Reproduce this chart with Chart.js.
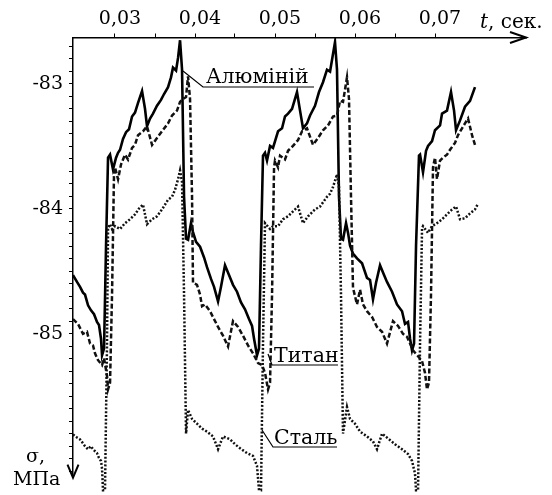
<!DOCTYPE html>
<html>
<head>
<meta charset="utf-8">
<script src="https://cdn.jsdelivr.net/npm/chart.js@4/dist/chart.umd.min.js"></script>
<style>
  html, body { margin: 0; padding: 0; background: #fff; }
</style>
</head>
<body>
<canvas id="chart" width="552" height="495"></canvas>
<script>
// Напруження σ (МПа) у часі t (сек.), пари [t, σ]
const aluminium = [
  [0.02475,-84.530],[0.02525,-84.585],[0.02563,-84.624],[0.02600,-84.671],[0.02625,-84.686],[0.02663,-84.772],
  [0.02700,-84.812],[0.02738,-84.843],[0.02775,-84.905],[0.02800,-84.929],[0.02825,-85.039],[0.02838,-85.172],
  [0.02863,-85.117],[0.02888,-84.295],[0.02913,-83.591],[0.02938,-83.567],[0.02975,-83.685],[0.03013,-83.591],
  [0.03038,-83.552],[0.03063,-83.528],[0.03100,-83.442],[0.03138,-83.387],[0.03175,-83.364],[0.03213,-83.262],
  [0.03250,-83.231],[0.03288,-83.153],[0.03338,-83.059],[0.03375,-83.200],[0.03400,-83.340],[0.03438,-83.278],
  [0.03475,-83.239],[0.03525,-83.176],[0.03575,-83.129],[0.03613,-83.082],[0.03663,-83.027],[0.03700,-82.949],
  [0.03725,-82.871],[0.03763,-82.894],[0.03788,-82.793],[0.03813,-82.652],[0.03838,-82.887],[0.03863,-83.904],
  [0.03888,-84.240],[0.03913,-84.248],[0.03950,-84.115],[0.03975,-84.186],[0.04013,-84.264],[0.04063,-84.303],
  [0.04113,-84.389],[0.04150,-84.467],[0.04200,-84.561],[0.04238,-84.624],[0.04288,-84.741],[0.04325,-84.624],
  [0.04375,-84.452],[0.04425,-84.530],[0.04475,-84.608],[0.04525,-84.663],[0.04575,-84.749],[0.04625,-84.804],
  [0.04675,-84.882],[0.04713,-84.937],[0.04738,-85.039],[0.04775,-85.172],
  [0.04800,-85.117],[0.04825,-84.295],[0.04850,-83.575],[0.04875,-83.552],[0.04900,-83.614],[0.04938,-83.497],
  [0.04975,-83.513],[0.05038,-83.380],[0.05088,-83.356],[0.05125,-83.262],[0.05163,-83.239],[0.05213,-83.200],
  [0.05275,-83.066],[0.05313,-83.215],[0.05350,-83.356],[0.05400,-83.317],[0.05438,-83.254],[0.05500,-83.176],
  [0.05550,-83.066],[0.05600,-82.988],[0.05650,-82.887],[0.05688,-82.902],[0.05713,-82.808],[0.05750,-82.667],
  [0.05775,-82.887],[0.05800,-83.904],[0.05825,-84.240],[0.05850,-84.248],[0.05888,-84.115],[0.05913,-84.193],
  [0.05938,-84.295],[0.05975,-84.358],[0.06025,-84.397],[0.06088,-84.436],[0.06150,-84.553],[0.06188,-84.569],
  [0.06225,-84.725],[0.06263,-84.592],[0.06313,-84.452],[0.06363,-84.530],[0.06400,-84.585],[0.06463,-84.663],
  [0.06525,-84.765],[0.06588,-84.819],[0.06625,-84.921],[0.06663,-84.905],[0.06688,-85.039],[0.06713,-85.133],
  [0.06738,-85.078],[0.06763,-84.295],[0.06800,-83.575],[0.06813,-83.567],[0.06850,-83.708],[0.06888,-83.536],
  [0.06913,-83.497],[0.06963,-83.458],[0.07000,-83.372],[0.07063,-83.333],[0.07088,-83.239],[0.07150,-83.215],
  [0.07200,-83.066],[0.07238,-83.215],[0.07263,-83.372],[0.07313,-83.293],[0.07375,-83.184],[0.07438,-83.137],
  [0.07500,-83.027]
];

const titanium = [
  [0.02475,-84.882],[0.02538,-84.921],[0.02600,-85.000],[0.02650,-84.984],[0.02688,-85.078],[0.02725,-85.093],
  [0.02750,-85.156],[0.02788,-85.211],[0.02838,-85.250],[0.02863,-85.195],[0.02900,-85.336],[0.02913,-85.445],
  [0.02938,-85.391],[0.02963,-84.686],[0.02988,-83.708],[0.03000,-83.669],[0.03038,-83.763],[0.03075,-83.646],
  [0.03125,-83.567],[0.03163,-83.606],[0.03213,-83.513],[0.03250,-83.489],[0.03288,-83.411],[0.03350,-83.380],
  [0.03400,-83.340],[0.03463,-83.489],[0.03525,-83.434],[0.03588,-83.380],[0.03663,-83.317],[0.03713,-83.254],
  [0.03775,-83.215],[0.03813,-83.145],[0.03850,-83.121],[0.03888,-83.106],[0.03913,-82.941],[0.03938,-83.121],
  [0.03963,-83.904],[0.03975,-84.592],[0.04025,-84.608],[0.04063,-84.686],[0.04088,-84.780],[0.04125,-84.765],
  [0.04188,-84.819],[0.04225,-84.866],[0.04288,-84.945],[0.04350,-85.015],[0.04413,-85.101],[0.04475,-84.898],
  [0.04538,-84.945],[0.04600,-85.015],[0.04663,-85.093],[0.04725,-85.156],[0.04788,-85.234],[0.04838,-85.250],
  [0.04875,-85.312],[0.04913,-85.445],
  [0.04938,-85.391],[0.04963,-84.686],[0.04988,-83.669],[0.05000,-83.614],[0.05038,-83.669],[0.05063,-83.575],
  [0.05125,-83.606],[0.05163,-83.536],[0.05225,-83.497],[0.05288,-83.450],[0.05338,-83.380],[0.05400,-83.356],
  [0.05475,-83.489],[0.05538,-83.434],[0.05600,-83.372],[0.05663,-83.333],[0.05725,-83.262],[0.05775,-83.254],
  [0.05813,-83.137],[0.05850,-83.145],[0.05900,-82.949],[0.05925,-83.121],[0.05950,-83.904],[0.05975,-84.632],
  [0.06025,-84.765],[0.06063,-84.647],[0.06100,-84.765],[0.06150,-84.819],[0.06213,-84.866],[0.06275,-84.945],
  [0.06338,-84.984],[0.06400,-85.078],[0.06475,-84.898],[0.06538,-84.937],[0.06600,-85.000],[0.06650,-85.023],
  [0.06688,-85.078],[0.06725,-85.133],[0.06788,-85.179],[0.06838,-85.218],[0.06875,-85.312],[0.06900,-85.445],
  [0.06925,-85.391],[0.06950,-84.686],[0.06975,-83.669],[0.07000,-83.591],[0.07025,-83.763],[0.07063,-83.614],
  [0.07100,-83.591],[0.07150,-83.567],[0.07188,-83.528],[0.07250,-83.473],[0.07288,-83.411],[0.07338,-83.356],
  [0.07375,-83.317],[0.07413,-83.278],[0.07463,-83.411],[0.07500,-83.489]
];

const steel = [
  [0.02475,-85.805],[0.02525,-85.829],[0.02563,-85.844],[0.02600,-85.876],[0.02625,-85.899],[0.02663,-85.923],
  [0.02700,-85.899],[0.02725,-85.923],[0.02775,-85.954],[0.02800,-85.993],[0.02825,-86.017],[0.02838,-86.079],
  [0.02850,-86.251],[0.02875,-86.251],[0.02900,-85.078],[0.02913,-84.154],[0.02938,-84.123],[0.02963,-84.162],
  [0.03000,-84.139],[0.03063,-84.162],[0.03125,-84.115],[0.03188,-84.084],[0.03250,-84.045],[0.03300,-83.998],
  [0.03350,-83.966],[0.03400,-84.123],[0.03463,-84.084],[0.03525,-84.060],[0.03588,-84.005],[0.03663,-83.927],
  [0.03713,-83.904],[0.03750,-83.849],[0.03788,-83.763],[0.03813,-83.693],[0.03838,-83.787],[0.03863,-84.686],
  [0.03888,-85.798],[0.03913,-85.609],[0.03963,-85.680],[0.04025,-85.719],[0.04088,-85.758],[0.04150,-85.782],
  [0.04225,-85.821],[0.04288,-85.923],[0.04350,-85.821],[0.04438,-85.844],[0.04500,-85.883],[0.04563,-85.915],
  [0.04650,-85.954],[0.04725,-85.977],[0.04775,-86.056],[0.04800,-86.251],[0.04825,-86.251],
  [0.04850,-85.078],[0.04875,-84.115],[0.04938,-84.162],[0.04975,-84.139],[0.05038,-84.139],[0.05100,-84.084],
  [0.05163,-84.060],[0.05225,-84.021],[0.05288,-83.982],[0.05350,-84.115],[0.05413,-84.060],[0.05500,-84.005],
  [0.05563,-83.982],[0.05650,-83.904],[0.05688,-83.880],[0.05725,-83.826],[0.05775,-83.724],[0.05800,-83.826],
  [0.05825,-84.686],[0.05850,-85.798],[0.05900,-85.586],[0.05938,-85.680],[0.06000,-85.719],[0.06063,-85.782],
  [0.06150,-85.821],[0.06225,-85.860],[0.06275,-85.923],[0.06338,-85.798],[0.06413,-85.837],[0.06500,-85.883],
  [0.06588,-85.923],[0.06663,-85.962],[0.06713,-86.017],[0.06750,-86.118],[0.06763,-86.251],[0.06788,-86.251],
  [0.06813,-85.078],[0.06838,-84.154],[0.06850,-84.139],[0.06913,-84.193],[0.06963,-84.139],[0.07025,-84.115],
  [0.07088,-84.084],[0.07150,-84.045],[0.07213,-84.005],[0.07263,-83.982],[0.07313,-84.084],[0.07375,-84.076],
  [0.07438,-84.037],[0.07500,-84.005],[0.07538,-83.959]
];

// Поділки осей
const xTicks = [0.03, 0.035, 0.04, 0.045, 0.05, 0.055, 0.06, 0.065, 0.07];
const xLabels = ['0,03', '', '0,04', '', '0,05', '', '0,06', '', '0,07'];
const yLabelValues = [-83, -84, -85];
const yLabels = ['-83', '-84', '-85'];

const FONT = '"DejaVu Serif", "Liberation Serif", serif';

const toXY = arr => arr.map(p => ({ x: p[0], y: p[1] }));

// стрілки осей, підписи осей і кривих
const extras = {
  id: 'extras',
  afterDraw(chart) {
    const ctx = chart.ctx;
    const a = chart.chartArea;
    ctx.save();
    ctx.strokeStyle = '#000';
    ctx.fillStyle = '#000';
    ctx.lineWidth = 2;
    ctx.lineJoin = 'miter';

    ctx.beginPath();
    ctx.moveTo(a.right - 16, a.top - 5.5);
    ctx.lineTo(a.right, a.top);
    ctx.lineTo(a.right - 16, a.top + 5.5);
    ctx.stroke();

    ctx.beginPath();
    ctx.moveTo(a.left - 5.5, a.bottom - 13);
    ctx.lineTo(a.left, a.bottom);
    ctx.lineTo(a.left + 5.5, a.bottom - 13);
    ctx.stroke();

    ctx.textBaseline = 'alphabetic';
    ctx.textAlign = 'left';
    ctx.font = 'italic 20px ' + FONT;
    ctx.fillText('t', 480, 28);
    let w = ctx.measureText('t').width;
    ctx.font = '20px ' + FONT;
    ctx.fillText(', сек.', 480 + w, 28);

    ctx.font = '19px ' + FONT;
    ctx.fillText('σ,', 26, 462);
    ctx.fillText('МПа', 13, 485);

    // підписи кривих з підкресленням і виносками
    const notes = [
      { text: 'Алюміній', x: 206, y: 83, line: [[183, 71], [203, 87], [314, 87]] },
      { text: 'Титан', x: 274, y: 362, line: [[268, 354], [272, 365], [338, 365]] },
      { text: 'Сталь', x: 274, y: 444, line: [[262, 430], [273, 447], [337, 447]] }
    ];
    ctx.font = '20.5px ' + FONT;
    ctx.lineWidth = 1.2;
    notes.forEach(n => {
      ctx.fillText(n.text, n.x, n.y);
      ctx.beginPath();
      n.line.forEach((p, i) => i ? ctx.lineTo(p[0], p[1]) : ctx.moveTo(p[0], p[1]));
      ctx.stroke();
    });
    ctx.restore();
  }
};

new Chart(document.getElementById('chart'), {
  type: 'line',
  data: {
    datasets: [
      {
        label: 'Сталь',
        data: toXY(steel),
        borderColor: '#111',
        borderWidth: 2.5,
        borderDash: [2, 1.8],
        pointRadius: 0,
        tension: 0,
        clip: false
      },
      {
        label: 'Титан',
        data: toXY(titanium),
        borderColor: '#111',
        borderWidth: 2.5,
        borderDash: [5, 2.5],
        pointRadius: 0,
        tension: 0
      },
      {
        label: 'Алюміній',
        data: toXY(aluminium),
        borderColor: '#000',
        borderWidth: 2.6,
        pointRadius: 0,
        tension: 0
      }
    ]
  },
  options: {
    responsive: false,
    animation: false,
    layout: { padding: { left: 0, top: 0, right: 26, bottom: 8 } },
    plugins: { legend: { display: false }, tooltip: { enabled: false } },
    scales: {
      x: {
        type: 'linear',
        position: 'top',
        min: 0.02475,
        max: 0.081375,
        afterBuildTicks: s => { s.ticks = xTicks.map(v => ({ value: v })); },
        afterFit: s => { s.height = 37.5; },
        ticks: {
          autoSkip: false,
          maxRotation: 0,
          padding: 3,
          labelOffset: 5,
          color: '#000',
          font: { family: FONT, size: 19 },
          callback: (v, i) => xLabels[i]
        },
        grid: { drawOnChartArea: false, tickLength: 4, color: '#000', lineWidth: 1 },
        border: { display: true, color: '#000', width: 1.5 }
      },
      y: {
        type: 'linear',
        min: -86.15,
        max: -82.63,
        afterFit: s => { s.width = 73; },
        ticks: {
          stepSize: 0.1,
          includeBounds: false,
          autoSkip: false,
          padding: 6,
          color: '#000',
          font: { family: FONT, size: 19 },
          callback: v => {
            const i = yLabelValues.findIndex(y => Math.abs(y - v) < 1e-6);
            return i >= 0 ? yLabels[i] : '';
          }
        },
        grid: { drawOnChartArea: false, tickLength: 4, color: '#000', lineWidth: 1 },
        border: { display: true, color: '#000', width: 1.5 }
      }
    }
  },
  plugins: [extras]
});
</script>
</body>
</html>
